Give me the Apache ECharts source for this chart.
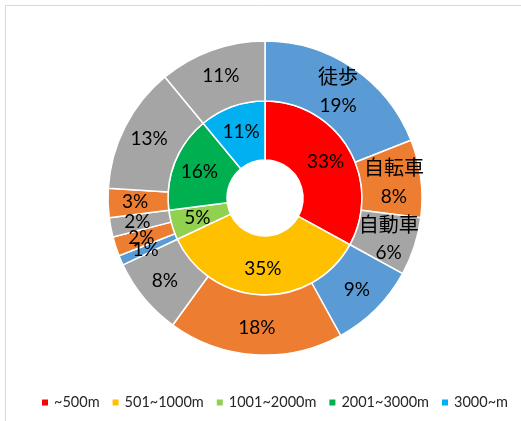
<!DOCTYPE html>
<html>
<head>
<meta charset="utf-8">
<script src="https://cdn.jsdelivr.net/npm/echarts@6/dist/echarts.min.js"></script>
<style>
  html, body { margin: 0; padding: 0; background: #fff; }
  #chart { width: 521px; height: 421px; }
</style>
</head>
<body>
<div id="chart"></div>
<script>
// Distance bands (inner ring) and their shares
const distanceBands = ['~500m', '501~1000m', '1001~2000m', '2001~3000m', '3000~m'];
const distanceShares = [33, 35, 5, 16, 11];

// Travel mode split within each band (outer ring), in band order
const outerModes = ['徒歩', '自転車', '自動車', '徒歩', '自転車', '自動車', '徒歩', '自転車', '自動車', '自転車', '自動車', '自動車'];
const outerShares = [19, 8, 6, 9, 18, 8, 1, 2, 2, 3, 13, 11];

const bandColors = ['#FF0000', '#FFC000', '#92D050', '#00B050', '#00B0F0'];
const modeColors = { '徒歩': '#5B9BD5', '自転車': '#ED7D31', '自動車': '#A5A5A5' };

const chart = echarts.init(document.getElementById('chart'));
const center = [265, 198];
const numFont = 'Lato, "Noto Sans", sans-serif';
const jpFont = '"Noto Sans CJK JP", sans-serif';

chart.setOption({
  animation: false,
  color: bandColors,
  graphic: [{
    type: 'rect',
    shape: { x: 5.5, y: 5.5, width: 530, height: 430 },
    style: { fill: 'none', stroke: '#d9d9d9', lineWidth: 1 },
    silent: true
  }],
  legend: {
    data: distanceBands,
    left: 40,
    top: 395,
    width: 481,
    padding: 0,
    itemWidth: 8,
    itemHeight: 8,
    itemGap: 11,
    icon: 'rect',
    textStyle: { fontFamily: numFont, fontSize: 14.5, color: '#262626' }
  },
  series: [
    {
      name: '距離',
      type: 'pie',
      center: center,
      radius: [38, 97],
      startAngle: 90,
      clockwise: true,
      avoidLabelOverlap: false,
      labelLayout: { hideOverlap: false },
      itemStyle: { borderColor: '#fff', borderWidth: 1.5 },
      label: {
        show: true,
        position: 'inside',
        formatter: p => p.value + '%',
        fontFamily: numFont,
        fontSize: 19,
        color: '#000'
      },
      labelLine: { show: false },
      data: distanceBands.map((b, i) => ({ name: b, value: distanceShares[i] }))
    },
    {
      name: '手段',
      type: 'pie',
      center: center,
      radius: [97, 157],
      startAngle: 90,
      clockwise: true,
      avoidLabelOverlap: false,
      labelLayout: { hideOverlap: false },
      itemStyle: { borderColor: '#fff', borderWidth: 1.5 },
      label: {
        show: true,
        position: 'inside',
        formatter: p => p.dataIndex < 3
          ? '{n|' + p.name + '}\n{v|' + p.value + '%}'
          : '{v|' + p.value + '%}',
        fontFamily: numFont,
        fontSize: 19,
        color: '#000',
        rich: {
          n: { fontFamily: jpFont, fontSize: 20, lineHeight: 30, color: '#000' },
          v: { fontFamily: numFont, fontSize: 19, lineHeight: 28, color: '#000' }
        }
      },
      labelLine: { show: false },
      data: outerModes.map((m, i) => ({
        name: m,
        value: outerShares[i],
        itemStyle: { color: modeColors[m] }
      }))
    }
  ]
});
</script>
</body>
</html>
